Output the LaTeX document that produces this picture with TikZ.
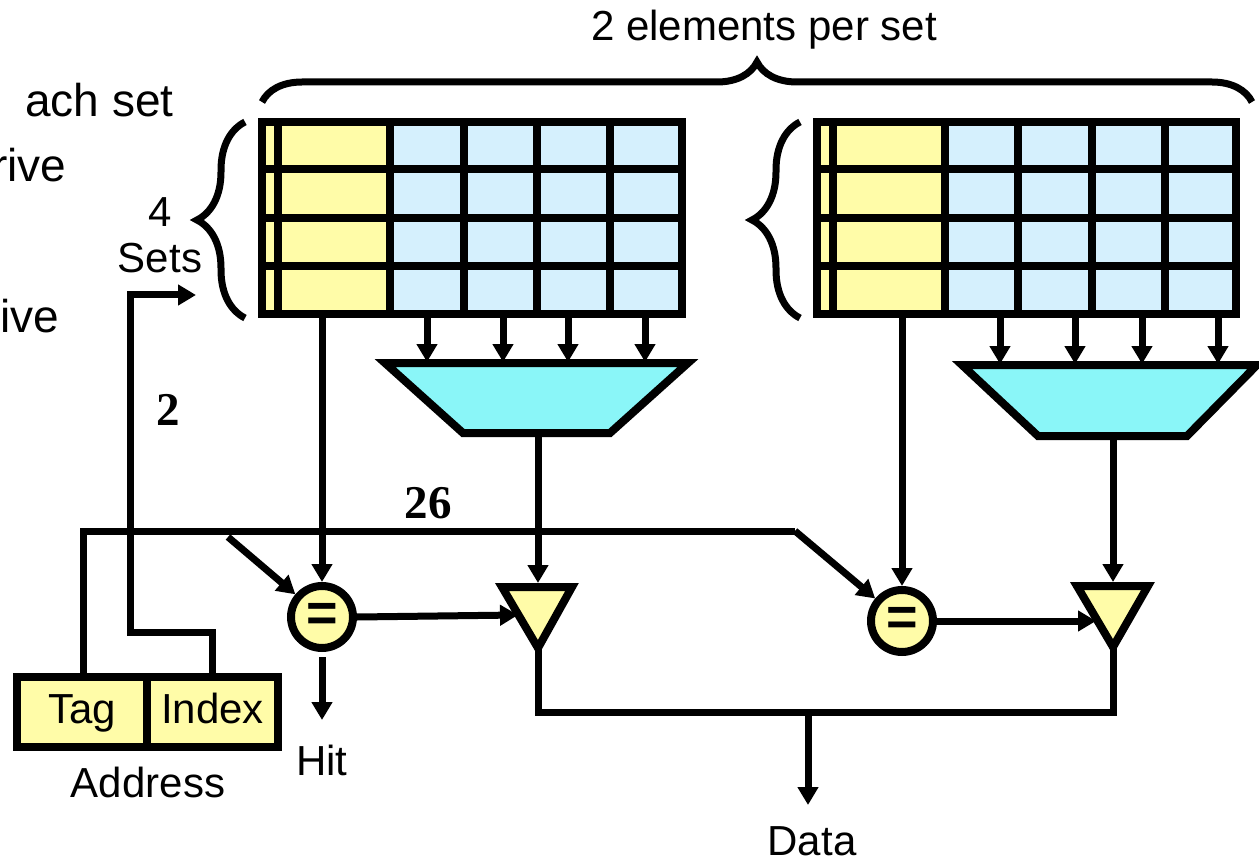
\documentclass[tikz,border=0pt]{standalone}
\usepackage{fontspec}
\setmainfont{Liberation Sans}
\newfontfamily\serifbold{Liberation Serif}
\usetikzlibrary{arrows.meta,decorations.pathreplacing}
\definecolor{tagyel}{HTML}{FFFCA8}
\definecolor{cellblue}{HTML}{D5F0FD}
\definecolor{muxcyan}{HTML}{8AF6F8}
\begin{document}
\begin{tikzpicture}[x=1pt,y=-1pt,
  wire/.style={line width=7pt},
  arr/.style={wire,-{Triangle[length=18pt,width=20pt]}},
  gridline/.style={line width=8pt},
  lbl/.style={font=\fontsize{42}{46}\selectfont, inner sep=0pt},
  sidelbl/.style={font=\fontsize{46}{50}\selectfont, inner sep=0pt},
  numlbl/.style={font=\serifbold\bfseries\fontsize{47}{50}\selectfont, inner sep=0pt},
  cmp/.style={circle, draw, line width=8pt, fill=tagyel, minimum size=62pt, inner sep=0pt,
              font=\bfseries\fontsize{54}{54}\selectfont},
  addr/.style={draw, line width=8pt, fill=tagyel, minimum height=70pt, inner sep=0pt,
               text height=30pt, text depth=8pt, font=\fontsize{42}{46}\selectfont},
  bracestyle/.style={line width=7pt, decorate},
  buf/.style={line width=8pt, fill=tagyel},
  mux/.style={line width=8pt, fill=muxcyan}
]
\useasboundingbox (0,0) rectangle (1259,861);

% cut-off slide text on the left
\node[sidelbl, anchor=base west] (t1) at (25,117) {ach set};
\node[sidelbl, anchor=base west] (t2) at (-8,182) {rive};
\node[sidelbl, anchor=base west] (t3) at (0,332) {ive};

% top label and brace
\node[lbl] (elems) at (764,30) {2 elements per set};
\draw[bracestyle, decoration={brace, amplitude=40pt}] (262,102) -- (1252,102);

% left array
\fill[tagyel] (262,122) rectangle (390,314);
\fill[cellblue] (390,122) rectangle (682,314);
\draw[gridline] (262,122) rectangle (682,314);
\foreach \y in {169,218,266} \draw[gridline] (262,\y) -- (682,\y);
\foreach \x in {278,390,464,537,610} \draw[gridline] (\x,122) -- (\x,314);
\coordinate (tagoutL) at (322,318);

% right array
\fill[tagyel] (817,122) rectangle (945,314);
\fill[cellblue] (945,122) rectangle (1236,314);
\draw[gridline] (817,122) rectangle (1236,314);
\foreach \y in {169,218,266} \draw[gridline] (817,\y) -- (1236,\y);
\foreach \x in {833,945,1018,1092,1165} \draw[gridline] (\x,122) -- (\x,314);
\coordinate (tagoutR) at (902,318);

% side braces
\draw[bracestyle, decoration={brace, amplitude=48pt}] (245,318) -- (245,122);
\draw[bracestyle, decoration={brace, amplitude=48pt}] (800,318) -- (800,122);
\node[lbl] (four) at (160,212) {4};
\node[lbl] (sets) at (160,258) {Sets};

% muxes
\draw[mux] (385,363) -- (688,363) -- (610,433) -- (463,433) -- cycle;
\draw[mux] (962,365) -- (1257,365) -- (1187,436) -- (1038,436) -- cycle;
\coordinate (muxLout) at (538,433);
\coordinate (muxRout) at (1113,436);
\foreach \x in {427,503,568,645} \draw[arr] (\x,318) -- (\x,362);
\foreach \x in {1000,1075,1142,1218} \draw[arr] (\x,318) -- (\x,364);

% comparators
\node[cmp] (cmpL) at (322,617) {=};
\node[cmp] (cmpR) at (902,621) {=};

% tri-state buffers
\draw[buf] (502,587) -- (572,587) -- (538,648) -- cycle;
\draw[buf] (1077,586) -- (1148,586) -- (1113,647) -- cycle;
\coordinate (bufLin) at (518,615);
\coordinate (bufRin) at (1096,621);
\coordinate (bufLtop) at (538,583);
\coordinate (bufRtop) at (1113,582);
\coordinate (bufLout) at (538,648);
\coordinate (bufRout) at (1113,647);

% array -> comparator, mux -> buffer, comparator -> buffer
\draw[arr] (tagoutL) -- (cmpL.north);
\draw[arr] (tagoutR) -- (cmpR.north);
\draw[arr] (muxLout) -- (bufLtop);
\draw[arr] (muxRout) -- (bufRtop);
\draw[arr] (cmpL.east) -- (bufLin);
\draw[arr] (cmpR.east) -- (bufRin);

% address
\node[addr, minimum width=130pt] (tag) at (82,712) {Tag};
\node[addr, minimum width=131pt] (index) at (212.5,712) {Index};
\node[lbl] (address) at (148,782) {Address};

% tag bus
\coordinate (busL) at (83,531);
\coordinate (busR) at (795,531);
\coordinate (brL) at (228,537);
\draw[wire] (83,677) -- (busL) -- (busR);
\draw[arr] (busR) -- (cmpR);
\draw[arr] (brL) -- (cmpL);
\node[numlbl] (n26) at (428,503) {26};

% index path
\coordinate (ixA) at (212,632);
\coordinate (ixB) at (130,632);
\coordinate (ixC) at (130,295);
\coordinate (ixD) at (196,295);
\draw[arr] (212,677) -- (ixA) -- (ixB) -- (ixC) -- (ixD);
\node[numlbl] (n2) at (168,410) {2};

% hit
\coordinate (hitend) at (322,720);
\draw[arr] (322,657) -- (hitend);
\node[lbl] (hit) at (322,760) {Hit};

% data output
\coordinate (dL) at (538,712);
\coordinate (dR) at (1113,712);
\coordinate (dM) at (808,712);
\coordinate (dEnd) at (808,805);
\draw[wire] (bufLout) -- (dL) -- (dR) -- (bufRout);
\draw[arr] (dM) -- (dEnd);
\node[lbl] (data) at (812,841) {Data};
\end{tikzpicture}
\end{document}
